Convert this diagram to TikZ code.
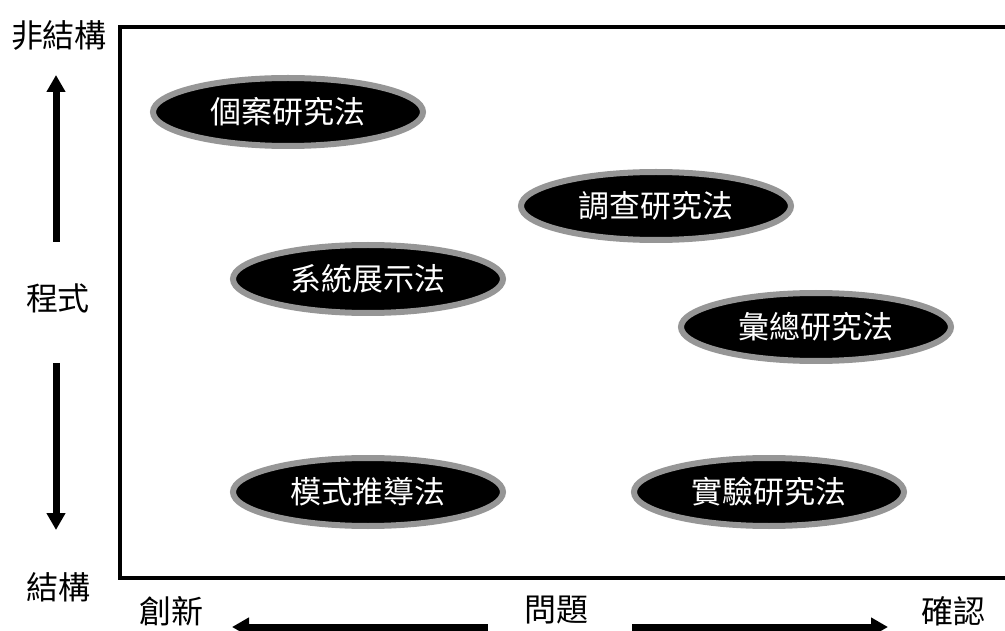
\documentclass[tikz,border=0pt]{standalone}
\usepackage{fontspec}
\setmainfont{Noto Sans CJK TC}
\usetikzlibrary{shapes.geometric,arrows.meta}
\definecolor{rimgray}{RGB}{150,150,150}
\tikzset{
  method/.style={ellipse, fill=black, draw=rimgray, line width=6pt,
    minimum width=270pt, minimum height=68pt, inner sep=0pt,
    text=white, font=\fontsize{31}{31}\selectfont},
  axislabel/.style={text=black, font=\fontsize{32}{32}\selectfont, inner sep=0pt},
  bigarrow/.style={line width=7pt, -{Triangle[width=18pt,length=17pt]}},
  frame/.style={line width=4pt}
}
\begin{document}
\begin{tikzpicture}[x=1pt,y=-1pt]
\useasboundingbox (0,0) rectangle (1005,631);
% frame (open on the right)
\coordinate (ftr) at (1005,27);
\coordinate (ftl) at (120,27);
\coordinate (fbl) at (120,578);
\coordinate (fbr) at (1005,578);
\draw[frame] (ftr) -- (ftl) -- (fbl) -- (fbr);
% method ellipses
\node[method] (case) at (288,112) {個案研究法};
\node[method] (survey) at (656,206) {調查研究法};
\node[method] (system) at (368,279) {系統展示法};
\node[method] (meta) at (816,327) {彙總研究法};
\node[method] (model) at (368,492) {模式推導法};
\node[method] (exper) at (769,492) {實驗研究法};
% axis labels
\node[axislabel] (unstruct) at (59,35) {非結構};
\node[axislabel] (proc) at (58,298) {程式};
\node[axislabel] (struct) at (59,587) {結構};
\node[axislabel] (innov) at (171,611) {創新};
\node[axislabel] (problem) at (556,610) {問題};
\node[axislabel] (confirm) at (953,611) {確認};
% arrows
\coordinate (upS) at (56,242);
\coordinate (upE) at (56,75);
\coordinate (dnS) at (56,363);
\coordinate (dnE) at (56,530);
\coordinate (lfS) at (488,627);
\coordinate (lfE) at (232,627);
\coordinate (rtS) at (632,627);
\coordinate (rtE) at (888,627);
\draw[bigarrow] (upS) -- (upE);
\draw[bigarrow] (dnS) -- (dnE);
\draw[bigarrow] (lfS) -- (lfE);
\draw[bigarrow] (rtS) -- (rtE);
\end{tikzpicture}
\end{document}
